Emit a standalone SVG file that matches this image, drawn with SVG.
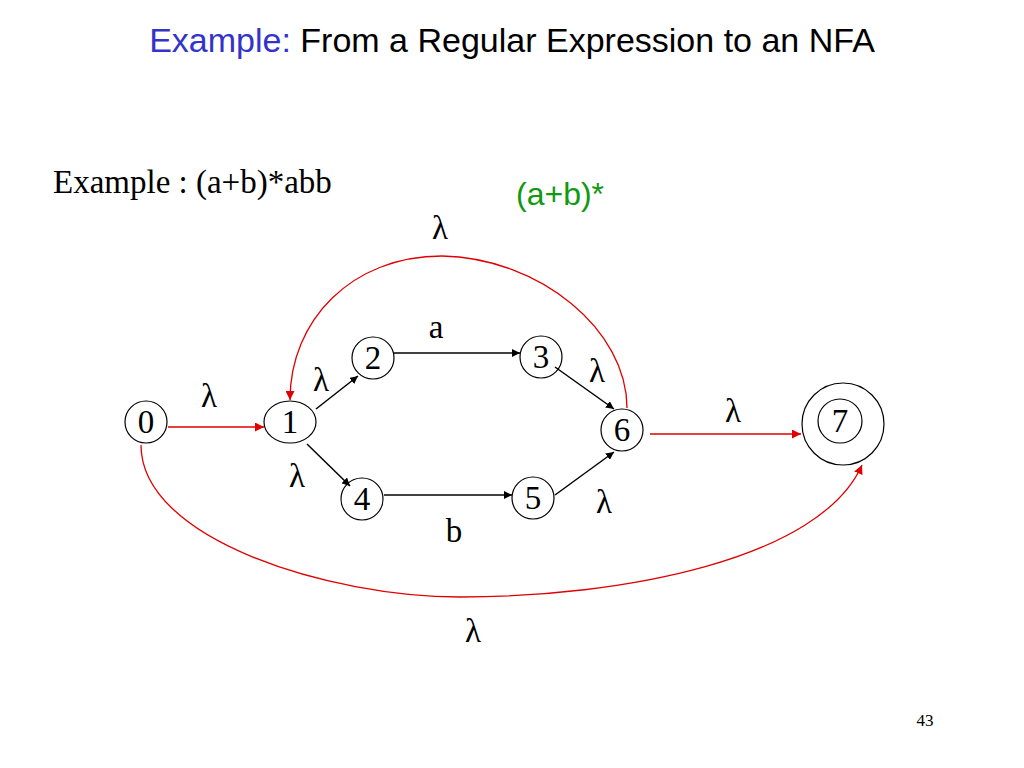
<svg xmlns="http://www.w3.org/2000/svg" width="1024" height="768" viewBox="0 0 1024 768">
<defs>
<style>
.node{fill:none;stroke:#000;stroke-width:1.2}
.num{font-family:"Liberation Serif","Times New Roman",serif;font-size:33px;fill:#000;text-anchor:middle}
.lab{font-family:"Liberation Serif","Times New Roman",serif;font-size:33px;fill:#000;text-anchor:middle}
.blk{fill:none;stroke:#000;stroke-width:1.5}
.red{fill:none;stroke:#e00000;stroke-width:1.3}
</style>
<marker id="ab" viewBox="0 0 10 10" refX="10" refY="5" markerWidth="8" markerHeight="8" markerUnits="userSpaceOnUse" orient="auto"><path d="M0,0 L10,5 L0,10 z" fill="#000"/></marker>
<marker id="ar" viewBox="0 0 10 10" refX="10" refY="5" markerWidth="9" markerHeight="9" markerUnits="userSpaceOnUse" orient="auto"><path d="M0,0 L10,5 L0,10 z" fill="#e00000"/></marker>
</defs>
<rect width="1024" height="768" fill="#fff"/>
<text x="512" y="52" text-anchor="middle" font-family="Liberation Sans, Arial, sans-serif" font-size="34"><tspan fill="#3333cc">Example:</tspan><tspan fill="#000"> From a Regular Expression to an NFA</tspan></text>
<text x="53" y="193" font-family="Liberation Serif, Times New Roman, serif" font-size="33" fill="#000">Example : (a+b)*abb</text>
<text x="516" y="205" font-family="Liberation Sans, Arial, sans-serif" font-size="32" fill="#119911">(a+b)*</text>
<g id="connectors">
<path class="red" d="M168,427 L264,427" marker-end="url(#ar)"/>
<path class="blk" d="M316,409 L358,376" marker-end="url(#ab)"/>
<path class="blk" d="M307,444 L350,486" marker-end="url(#ab)"/>
<path class="blk" d="M394,353 L520,353" marker-end="url(#ab)"/>
<path class="blk" d="M384,495 L512,495" marker-end="url(#ab)"/>
<path class="blk" d="M555,367 L614,409" marker-end="url(#ab)"/>
<path class="blk" d="M555,495 L614,452" marker-end="url(#ab)"/>
<path class="red" d="M650,434 L801,434" marker-end="url(#ar)"/>
<path class="red" d="M627,408 C627,330 540,258 442,256 C352,256 290,320 290,400" marker-end="url(#ar)"/>
<path class="red" d="M141,445 C141,540 330,597 460,597 C620,597 820,560 862,465" marker-end="url(#ar)"/>
<text class="lab" x="440" y="239">λ</text>
<text class="lab" x="209" y="407">λ</text>
<text class="lab" x="321" y="391">λ</text>
<text class="lab" x="597" y="382">λ</text>
<text class="lab" x="297" y="487">λ</text>
<text class="lab" x="604" y="513">λ</text>
<text class="lab" x="733" y="422">λ</text>
<text class="lab" x="473" y="642">λ</text>
<text class="lab" x="436" y="338">a</text>
<text class="lab" x="454" y="542">b</text>
</g>
<g id="n0"><circle class="node" cx="146" cy="422" r="21"/><text class="num" x="146" y="433">0</text></g>
<g id="n1"><ellipse class="node" cx="290" cy="422" rx="26" ry="21"/><text class="num" x="290" y="433">1</text></g>
<g id="n2"><circle class="node" cx="373" cy="358" r="21"/><text class="num" x="373" y="369">2</text></g>
<g id="n3"><circle class="node" cx="541" cy="357" r="21"/><text class="num" x="541" y="368">3</text></g>
<g id="n4"><circle class="node" cx="362" cy="499" r="21"/><text class="num" x="362" y="510">4</text></g>
<g id="n5"><circle class="node" cx="533" cy="498" r="21"/><text class="num" x="533" y="509">5</text></g>
<g id="n6"><circle class="node" cx="622" cy="430" r="21"/><text class="num" x="622" y="441">6</text></g>
<g id="n7"><circle class="node" cx="843" cy="424" r="41"/><circle class="node" cx="840" cy="421" r="22"/><text class="num" x="840" y="432">7</text></g>
<text x="925" y="726" text-anchor="middle" font-family="Liberation Serif, Times New Roman, serif" font-size="17" fill="#000">43</text>
</svg>
